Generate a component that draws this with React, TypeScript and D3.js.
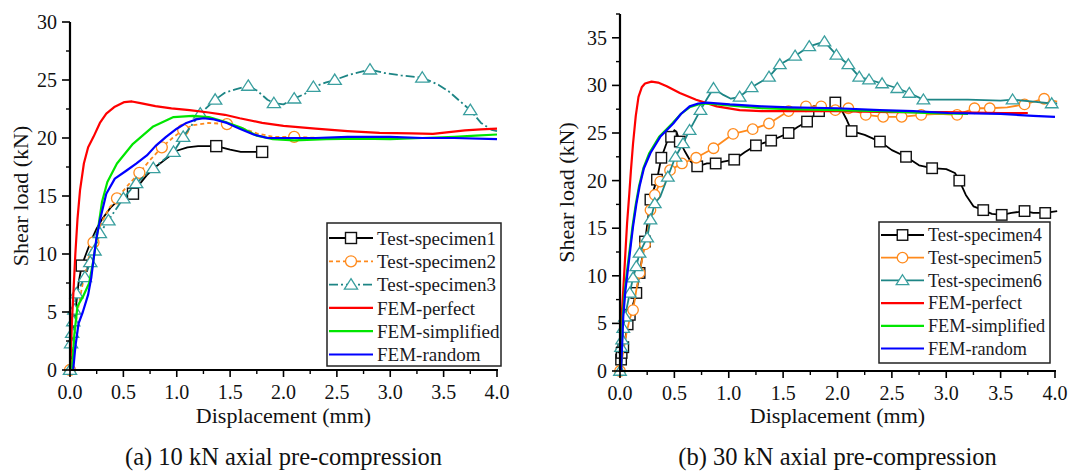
import React from "react";
import * as d3 from "d3";

type P = [number, number];

// ---------- ticks ----------
const xTickValues = [0, 0.5, 1, 1.5, 2, 2.5, 3, 3.5, 4];
const xTickLabels = ["0.0", "0.5", "1.0", "1.5", "2.0", "2.5", "3.0", "3.5", "4.0"];
const leftYTicks = [0, 5, 10, 15, 20, 25, 30];
const rightYTicks = [0, 5, 10, 15, 20, 25, 30, 35];

const xTitle = "Displacement (mm)";
const yTitle = "Shear load (kN)";
const captionA = "(a) 10 kN axial pre-compression";
const captionB = "(b) 30 kN axial pre-compression";

const legendA = ["Test-specimen1", "Test-specimen2", "Test-specimen3", "FEM-perfect", "FEM-simplified", "FEM-random"];
const legendB = ["Test-specimen4", "Test-specimen5", "Test-specimen6", "FEM-perfect", "FEM-simplified", "FEM-random"];

// ---------- panel (a): 10 kN ----------
const spec1Line: P[] = [[0,0],[0.02,2],[0.05,5],[0.08,7.5],[0.11,9],[0.15,10],[0.2,11.2],[0.25,12.2],[0.3,13],[0.38,14],[0.45,14.6],[0.52,14.9],[0.59,15.2],[0.65,16],[0.72,16.8],[0.8,17.5],[0.9,18.2],[1.0,18.9],[1.1,19.2],[1.2,19.3],[1.37,19.3],[1.5,19.0],[1.6,18.8],[1.7,18.8],[1.8,18.8]];
const spec1Marks: P[] = [[0.11,9],[0.59,15.2],[1.37,19.3],[1.8,18.8]];

const spec2Line: P[] = [[0,0],[0.03,2.5],[0.07,5],[0.12,7.5],[0.17,9.5],[0.22,11],[0.3,12.8],[0.37,14],[0.44,14.8],[0.55,16],[0.65,17],[0.75,18.1],[0.86,19.2],[0.96,20],[1.06,20.7],[1.15,21.1],[1.3,21.3],[1.47,21.2],[1.6,20.9],[1.75,20.4],[1.9,20.1],[2.1,20.1],[2.35,20.0]];
const spec2Marks: P[] = [[0,0],[0.22,11],[0.44,14.8],[0.65,17],[0.86,19.2],[1.06,20.7],[1.47,21.2],[2.1,20.1]];

const spec3Line: P[] = [[0,0],[0.01,2.3],[0.02,3.2],[0.03,4.2],[0.04,5.2],[0.06,6.6],[0.14,8],[0.19,9.3],[0.23,10.3],[0.28,11.8],[0.36,12.9],[0.5,14.8],[0.62,16.1],[0.78,17.4],[0.97,18.8],[1.06,20.1],[1.22,22.1],[1.36,23.3],[1.45,23.9],[1.55,24.2],[1.67,24.5],[1.75,24.1],[1.85,23.3],[1.91,23],[2.0,22.9],[2.1,23.4],[2.2,23.8],[2.28,24.4],[2.4,24.8],[2.48,25.0],[2.6,25.4],[2.81,25.9],[2.95,25.6],[3.1,25.4],[3.3,25.2],[3.45,24.6],[3.55,24],[3.65,23.2],[3.75,22.4],[3.85,21.3],[3.95,20.7],[4.0,20.6]];
const spec3Marks: P[] = [[0,0],[0.01,2.3],[0.02,3.2],[0.03,4.2],[0.04,5.2],[0.06,6.6],[0.14,8],[0.19,9.3],[0.23,10.3],[0.28,11.8],[0.36,12.9],[0.5,14.8],[0.62,16.1],[0.78,17.4],[0.97,18.8],[1.06,20.1],[1.22,22.1],[1.36,23.3],[1.67,24.5],[1.91,23],[2.1,23.4],[2.28,24.4],[2.48,25.0],[2.81,25.9],[3.3,25.2],[3.75,22.4]];

const femPerfectA: P[] = [[0,0],[0.01,2],[0.02,4.5],[0.03,6.3],[0.05,10],[0.07,13],[0.094,15.5],[0.13,17.8],[0.17,19.2],[0.22,20.1],[0.28,21.3],[0.34,22.1],[0.42,22.7],[0.51,23.1],[0.58,23.15],[0.66,23.0],[0.8,22.75],[0.95,22.55],[1.12,22.4],[1.3,22.2],[1.45,22.0],[1.59,21.7],[1.8,21.3],[2.0,21.05],[2.3,20.8],[2.6,20.6],[2.9,20.45],[3.2,20.4],[3.4,20.35],[3.55,20.5],[3.7,20.65],[3.85,20.75],[4.0,20.8]];
const femSimplifiedA: P[] = [[0.02,0],[0.04,3],[0.07,5.5],[0.12,6.3],[0.18,7.5],[0.22,9.5],[0.26,12],[0.3,14.5],[0.35,16.2],[0.44,17.8],[0.59,19.5],[0.78,21],[0.97,21.8],[1.15,21.9],[1.3,21.8],[1.45,21.4],[1.6,20.9],[1.75,20.2],[1.9,19.9],[2.1,19.8],[2.4,19.9],[2.7,19.95],[3.0,19.9],[3.3,20.0],[3.6,20.1],[3.8,20.2],[4.0,20.3]];
const femRandomA: P[] = [[0.03,0],[0.05,2],[0.08,4],[0.12,5],[0.17,6.5],[0.2,8],[0.22,9.5],[0.25,11.5],[0.28,12.9],[0.34,15.2],[0.42,16.5],[0.53,17.2],[0.62,17.8],[0.72,18.5],[0.8,19.3],[0.9,20.1],[1.0,20.8],[1.09,21.3],[1.18,21.6],[1.25,21.7],[1.35,21.6],[1.47,21.3],[1.59,20.8],[1.72,20.3],[1.85,20.0],[2.0,20.0],[2.3,20.0],[2.6,20.1],[3.0,20.1],[3.3,20.0],[3.6,20.0],[4.0,19.9]];

// ---------- panel (b): 30 kN ----------
const spec4Line: P[] = [[0,0],[0.01,1.2],[0.015,1.9],[0.03,2.5],[0.05,3.5],[0.07,4.9],[0.09,5.9],[0.12,7],[0.15,8.2],[0.18,10.3],[0.23,13.6],[0.28,18],[0.34,20.1],[0.38,22.4],[0.43,24],[0.47,24.6],[0.5,25.3],[0.52,25.1],[0.55,24.1],[0.6,23],[0.65,22],[0.71,21.5],[0.8,21.8],[0.88,21.8],[0.95,22],[1.05,22.2],[1.15,23],[1.25,23.7],[1.39,24.2],[1.55,25],[1.63,25.6],[1.72,26.2],[1.83,27.3],[1.92,27.5],[1.98,28.2],[2.02,27.8],[2.08,26.5],[2.13,25.2],[2.25,24.8],[2.39,24.1],[2.5,23.2],[2.63,22.5],[2.75,21.6],[2.87,21.3],[3.0,21.2],[3.08,20.8],[3.12,20],[3.18,18.5],[3.25,17.3],[3.34,16.9],[3.42,16.5],[3.51,16.4],[3.6,16.6],[3.72,16.8],[3.8,16.6],[3.91,16.6],[4.02,16.8]];
const spec4Marks: P[] = [[0.01,1.2],[0.015,1.9],[0.03,2.5],[0.07,4.9],[0.09,5.9],[0.15,8.2],[0.18,10.3],[0.23,13.6],[0.28,18],[0.34,20.1],[0.38,22.4],[0.47,24.6],[0.55,24.1],[0.71,21.5],[0.88,21.8],[1.05,22.2],[1.25,23.7],[1.39,24.2],[1.55,25],[1.72,26.2],[1.83,27.3],[1.98,28.2],[2.13,25.2],[2.39,24.1],[2.63,22.5],[2.87,21.3],[3.12,20],[3.34,16.9],[3.51,16.4],[3.72,16.8],[3.91,16.6]];

const spec5Line: P[] = [[0,0],[0.03,2],[0.06,4],[0.09,5.5],[0.12,6.4],[0.15,8.5],[0.18,10.3],[0.23,13.3],[0.26,15],[0.28,16.9],[0.32,18.5],[0.37,19.9],[0.46,21.1],[0.57,21.8],[0.7,22.4],[0.86,23.4],[1.04,24.9],[1.22,25.4],[1.37,26],[1.55,27.3],[1.71,27.8],[1.85,27.8],[1.98,27.4],[2.1,27.6],[2.26,26.9],[2.42,26.7],[2.59,26.7],[2.77,26.9],[2.93,27.0],[3.1,26.9],[3.26,27.6],[3.4,27.6],[3.56,27.7],[3.72,28],[3.9,28.6],[4.02,28.3]];
const spec5Marks: P[] = [[0,0],[0.12,6.4],[0.18,10.3],[0.23,13.3],[0.28,16.9],[0.32,18.5],[0.37,19.9],[0.46,21.1],[0.57,21.8],[0.7,22.4],[0.86,23.4],[1.04,24.9],[1.22,25.4],[1.37,26],[1.55,27.3],[1.71,27.8],[1.85,27.8],[1.98,27.4],[2.1,27.6],[2.26,26.9],[2.42,26.7],[2.59,26.7],[2.77,26.9],[3.1,26.9],[3.26,27.6],[3.4,27.6],[3.72,28],[3.9,28.6]];

const spec6Line: P[] = [[0,0],[0.01,2.5],[0.02,3.3],[0.03,4.5],[0.046,5.7],[0.09,8.2],[0.12,9.8],[0.15,11],[0.18,12.4],[0.25,14],[0.28,15.9],[0.32,17.6],[0.37,18.3],[0.44,20.4],[0.51,22.5],[0.58,23.9],[0.64,25.3],[0.74,27.4],[0.8,28.6],[0.86,29.7],[0.95,29.0],[1.02,28.6],[1.1,28.8],[1.21,29.8],[1.3,30.4],[1.37,30.9],[1.47,32.2],[1.61,33.1],[1.74,34.1],[1.88,34.6],[1.99,33.2],[2.1,32.2],[2.2,30.9],[2.29,30.6],[2.41,30.2],[2.55,29.7],[2.66,29.2],[2.79,28.5],[2.9,28.5],[3.2,28.5],[3.5,28.4],[3.61,28.5],[3.8,28.3],[3.97,28.1],[4.02,28.1]];
const spec6Marks: P[] = [[0,0],[0.01,2.5],[0.02,3.3],[0.03,4.5],[0.046,5.7],[0.09,8.2],[0.12,9.8],[0.15,11],[0.18,12.4],[0.25,14],[0.28,15.9],[0.32,17.6],[0.44,20.4],[0.51,22.5],[0.58,23.9],[0.64,25.3],[0.74,27.4],[0.86,29.7],[1.1,28.8],[1.21,29.8],[1.37,30.9],[1.47,32.2],[1.61,33.1],[1.74,34.1],[1.88,34.6],[1.99,33.2],[2.1,32.2],[2.2,30.9],[2.29,30.6],[2.41,30.2],[2.55,29.7],[2.66,29.2],[2.79,28.5],[3.61,28.5],[3.97,28.1]];

const femPerfectB: P[] = [[0,0],[0.015,5.7],[0.03,8.5],[0.046,11.7],[0.065,15.5],[0.086,18.7],[0.1,21],[0.12,23.9],[0.145,26.8],[0.17,28.8],[0.2,29.8],[0.23,30.2],[0.29,30.4],[0.35,30.3],[0.43,29.9],[0.55,29.2],[0.7,28.5],[0.89,27.8],[1.1,27.4],[1.3,27.3],[1.56,27.3],[2.0,27.3],[2.5,27.2],[3.0,27.2],[3.5,27.1],[3.75,27.1]];
const femSimplifiedB: P[] = [[0.01,0],[0.025,5.7],[0.045,8.5],[0.07,11],[0.095,13.3],[0.115,15.2],[0.145,17.5],[0.175,19.4],[0.215,21.3],[0.27,22.9],[0.36,24.6],[0.48,26],[0.56,27],[0.64,27.7],[0.72,28.0],[0.8,28.1],[1.0,27.9],[1.3,27.6],[1.56,27.5],[2.0,27.4],[2.4,27.3],[2.8,27.1],[3.2,27.0]];
const femRandomB: P[] = [[0.01,0],[0.03,5.7],[0.05,8.5],[0.076,11],[0.1,13.3],[0.12,15.2],[0.15,17.5],[0.18,19.4],[0.22,21.3],[0.28,22.9],[0.37,24.6],[0.49,26],[0.56,27],[0.64,27.8],[0.72,28.1],[0.8,28.2],[1.01,28],[1.3,27.8],[1.56,27.7],[2.0,27.6],[2.39,27.4],[2.7,27.3],[3.02,27.1],[3.5,27.0],[3.8,26.8],[4.0,26.7]];

// ---------- styles ----------
const BLACK = "#000000";
const ORANGE = "#ff8a1c";
const TEAL = "#1d8585";
const TEAL_MARK = "#3a9f9f";
const RED = "#ff0000";
const GREEN = "#00e600";
const BLUE = "#0000ff";
const FONT = "'Liberation Serif', 'Times New Roman', serif";

type Shape = "square" | "circle" | "triangle" | "none";
interface Series {
  line: P[];
  marks: P[];
  color: string;
  markColor: string;
  shape: Shape;
  dash?: string;
  width: number;
}

function Marker({ shape, x, y, color, s }: { shape: Shape; x: number; y: number; color: string; s: number }) {
  if (shape === "square")
    return <rect x={x - s / 2} y={y - s / 2} width={s} height={s} fill="#fff" stroke={color} strokeWidth={1.4} />;
  if (shape === "circle")
    return <circle cx={x} cy={y} r={s / 2} fill="#fff" stroke={color} strokeWidth={1.3} />;
  if (shape === "triangle") {
    const h = s * 0.9;
    return (
      <path
        d={`M${x},${y - h * 0.6}L${x + s * 0.6},${y + h * 0.45}L${x - s * 0.6},${y + h * 0.45}Z`}
        fill="#fff"
        stroke={color}
        strokeWidth={1.3}
      />
    );
  }
  return null;
}

interface PanelProps {
  xr: [number, number];
  yr: [number, number];
  yMax: number;
  yTicks: number[];
  minorY: number[];
  series: Series[];
  legendNames: string[];
  legendBox: { x: number; y: number; w: number; h: number; row0: number; rowH: number; lineW: number; font: number };
  yTitleX: number;
  caption: string;
  markSize: number;
}

function Panel(p: PanelProps) {
  const x = d3.scaleLinear().domain([0, 4]).range(p.xr);
  const y = d3.scaleLinear().domain([0, p.yMax]).range(p.yr);
  const line = d3
    .line<P>()
    .x((d) => x(d[0]))
    .y((d) => y(d[1]));
  const x0 = p.xr[0];
  const y0 = p.yr[0];
  const xMinor = d3.range(0.25, 4, 0.5);
  const cx = (p.xr[0] + p.xr[1]) / 2;
  const cy = (p.yr[0] + p.yr[1]) / 2;
  const lb = p.legendBox;
  return (
    <g>
      {p.series.map((s, i) => (
        <g key={i}>
          <path d={line(s.line) || ""} fill="none" stroke={s.color} strokeWidth={s.width} strokeDasharray={s.dash} strokeLinejoin="round" />
          {s.marks.map((m, j) => (
            <Marker key={j} shape={s.shape} x={x(m[0])} y={y(m[1])} color={s.markColor} s={p.markSize} />
          ))}
        </g>
      ))}
      <line x1={x0} y1={y0} x2={p.xr[1] + 1} y2={y0} stroke="#000" strokeWidth={2.2} />
      <line x1={x0} y1={y0 + 1} x2={x0} y2={p.yr[1]} stroke="#000" strokeWidth={2.2} />
      {xTickValues.map((v, i) => (
        <g key={"xt" + i}>
          <line x1={x(v)} x2={x(v)} y1={y0} y2={y0 + 7} stroke="#000" strokeWidth={1.6} />
          <text x={x(v)} y={y0 + 29} textAnchor="middle" fontSize={20} fontFamily={FONT} fill="#111">
            {xTickLabels[i]}
          </text>
        </g>
      ))}
      {xMinor.map((v, i) => (
        <line key={"xm" + i} x1={x(v)} x2={x(v)} y1={y0} y2={y0 + 4} stroke="#000" strokeWidth={1.4} />
      ))}
      {p.yTicks.map((v, i) => (
        <g key={"yt" + i}>
          <line x1={x0 - 8} x2={x0} y1={y(v)} y2={y(v)} stroke="#000" strokeWidth={1.6} />
          <text x={x0 - 13} y={y(v)} dy="0.35em" textAnchor="end" fontSize={20} fontFamily={FONT} fill="#111">
            {v}
          </text>
        </g>
      ))}
      {p.minorY.map((v, i) => (
        <line key={"ym" + i} x1={x0 - 4} x2={x0} y1={y(v)} y2={y(v)} stroke="#000" strokeWidth={1.4} />
      ))}
      <text x={cx} y={423} textAnchor="middle" fontSize={22} fontFamily={FONT} fill="#111">
        {xTitle}
      </text>
      <text transform={`translate(${p.yTitleX},${cy}) rotate(-90)`} textAnchor="middle" fontSize={22} fontFamily={FONT} fill="#111">
        {yTitle}
      </text>
      <text x={cx} y={465} textAnchor="middle" fontSize={24.5} fontFamily={FONT} fill="#111">
        {p.caption}
      </text>
      <rect x={lb.x} y={lb.y} width={lb.w} height={lb.h} fill="#fff" stroke="#222" strokeWidth={1.5} />
      {p.series.map((s, i) => {
        const ry = lb.row0 + i * lb.rowH;
        const lx1 = lb.x + 2;
        const lx2 = lb.x + 2 + lb.lineW;
        return (
          <g key={"lg" + i}>
            <line x1={lx1} x2={lx2} y1={ry} y2={ry} stroke={s.color} strokeWidth={s.width} strokeDasharray={s.dash} />
            <Marker shape={s.shape} x={(lx1 + lx2) / 2} y={ry} color={s.markColor} s={p.markSize} />
            <text x={lx2 + 4} y={ry} dy="0.35em" fontSize={lb.font} fontFamily={FONT} fill="#1a1a24">
              {p.legendNames[i]}
            </text>
          </g>
        );
      })}
    </g>
  );
}

export default function App() {
  const seriesA: Series[] = [
    { line: spec1Line, marks: spec1Marks, color: BLACK, markColor: "#111", shape: "square", width: 1.8 },
    { line: spec2Line, marks: spec2Marks, color: ORANGE, markColor: ORANGE, shape: "circle", dash: "4 3", width: 1.8 },
    { line: spec3Line, marks: spec3Marks, color: TEAL, markColor: TEAL_MARK, shape: "triangle", dash: "9 3 2 3", width: 1.8 },
    { line: femPerfectA, marks: [], color: RED, markColor: RED, shape: "none", width: 2.2 },
    { line: femSimplifiedA, marks: [], color: GREEN, markColor: GREEN, shape: "none", width: 2.2 },
    { line: femRandomA, marks: [], color: BLUE, markColor: BLUE, shape: "none", width: 2.2 },
  ];
  const seriesB: Series[] = [
    { line: spec4Line, marks: spec4Marks, color: BLACK, markColor: "#111", shape: "square", width: 1.8 },
    { line: spec5Line, marks: spec5Marks, color: ORANGE, markColor: ORANGE, shape: "circle", width: 1.8 },
    { line: spec6Line, marks: spec6Marks, color: TEAL, markColor: TEAL_MARK, shape: "triangle", width: 1.8 },
    { line: femPerfectB, marks: [], color: RED, markColor: RED, shape: "none", width: 2.2 },
    { line: femSimplifiedB, marks: [], color: GREEN, markColor: GREEN, shape: "none", width: 2.2 },
    { line: femRandomB, marks: [], color: BLUE, markColor: BLUE, shape: "none", width: 2.2 },
  ];
  return (
    <svg width={1075} height={473} style={{ position: "absolute", left: 0, top: 0, background: "#fff" }}>
      <rect width={1075} height={473} fill="#fff" />
      <Panel
        xr={[70, 497]}
        yr={[370, 22]}
        yMax={30}
        yTicks={leftYTicks}
        minorY={[2.5, 7.5, 12.5, 17.5, 22.5, 27.5]}
        series={seriesA}
        legendNames={legendA}
        legendBox={{ x: 327, y: 223, w: 174, h: 143, row0: 238, rowH: 23.3, lineW: 44, font: 19 }}
        yTitleX={28}
        caption={captionA}
        markSize={11}
      />
      <Panel
        xr={[620, 1055]}
        yr={[371, 14]}
        yMax={37.5}
        yTicks={rightYTicks}
        minorY={[2.5, 7.5, 12.5, 17.5, 22.5, 27.5, 32.5, 37.5]}
        series={seriesB}
        legendNames={legendB}
        legendBox={{ x: 879, y: 222, w: 171, h: 141, row0: 235, rowH: 22.7, lineW: 43, font: 18.2 }}
        yTitleX={574}
        caption={captionB}
        markSize={10.5}
      />
    </svg>
  );
}
